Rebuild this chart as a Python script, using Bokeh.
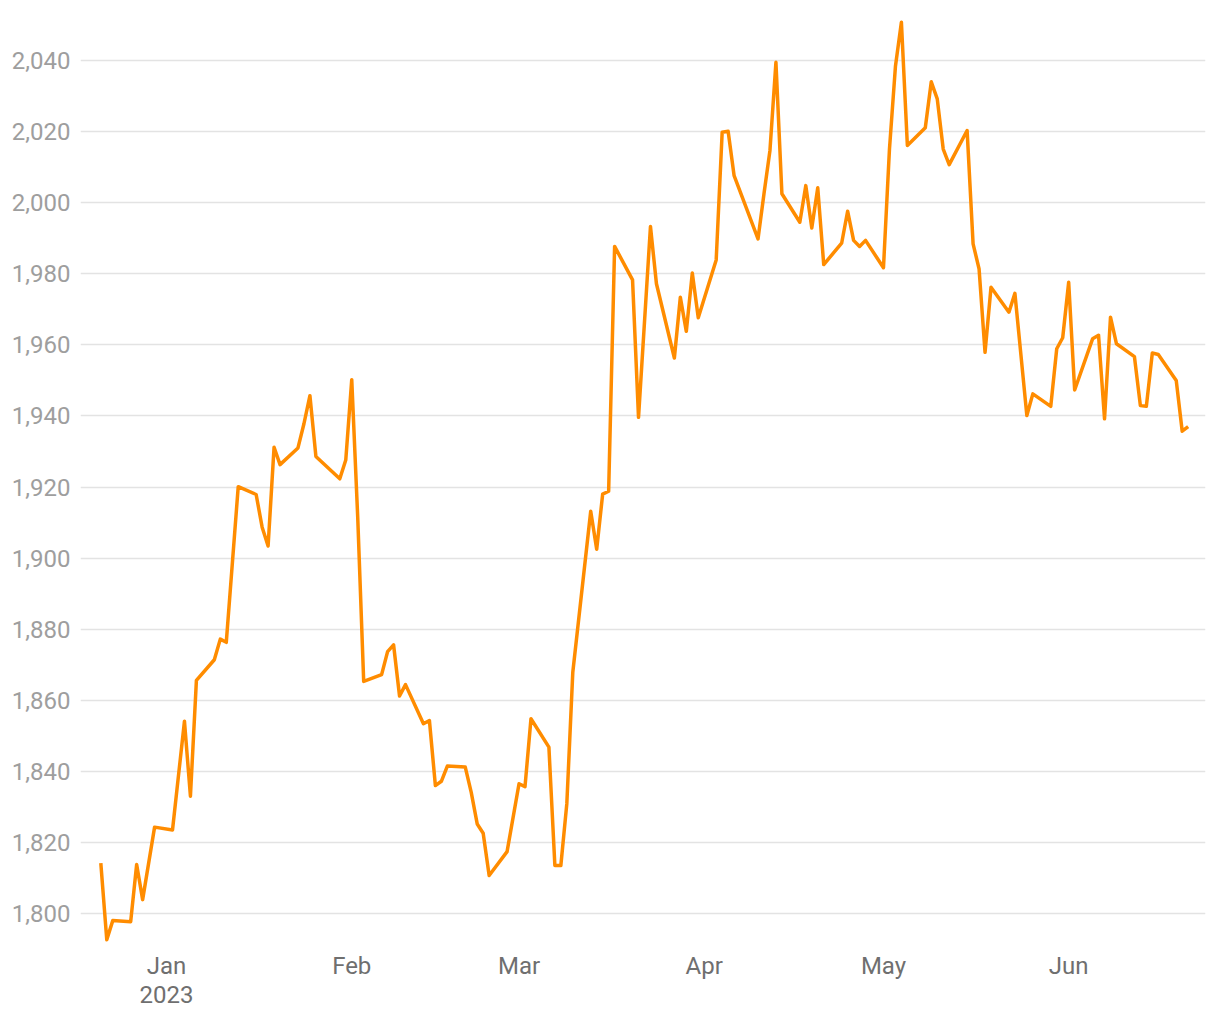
import pandas as pd
from bokeh.plotting import figure
from bokeh.models import Range1d, FixedTicker, NumeralTickFormatter, ColumnDataSource
from bokeh.embed import file_html
from bokeh.resources import INLINE

dates = [
    "2022-12-21", "2022-12-22", "2022-12-23", "2022-12-26", "2022-12-27", "2022-12-28",
    "2022-12-30", "2023-01-02", "2023-01-04", "2023-01-05", "2023-01-06", "2023-01-09",
    "2023-01-10", "2023-01-11", "2023-01-13", "2023-01-16", "2023-01-17", "2023-01-18",
    "2023-01-19", "2023-01-20", "2023-01-23", "2023-01-24", "2023-01-25", "2023-01-26",
    "2023-01-30", "2023-01-31", "2023-02-01", "2023-02-02", "2023-02-03", "2023-02-06",
    "2023-02-07", "2023-02-08", "2023-02-09", "2023-02-10", "2023-02-13", "2023-02-14",
    "2023-02-15", "2023-02-16", "2023-02-17", "2023-02-20", "2023-02-21", "2023-02-22",
    "2023-02-23", "2023-02-24", "2023-02-27", "2023-03-01", "2023-03-02", "2023-03-03",
    "2023-03-06", "2023-03-07", "2023-03-08", "2023-03-09", "2023-03-10", "2023-03-13",
    "2023-03-14", "2023-03-15", "2023-03-16", "2023-03-17", "2023-03-20", "2023-03-21",
    "2023-03-23", "2023-03-24", "2023-03-27", "2023-03-28", "2023-03-29", "2023-03-30",
    "2023-03-31", "2023-04-03", "2023-04-04", "2023-04-05", "2023-04-06", "2023-04-10",
    "2023-04-11", "2023-04-12", "2023-04-13", "2023-04-14", "2023-04-17", "2023-04-18",
    "2023-04-19", "2023-04-20", "2023-04-21", "2023-04-24", "2023-04-25", "2023-04-26",
    "2023-04-27", "2023-04-28", "2023-05-01", "2023-05-02", "2023-05-03", "2023-05-04",
    "2023-05-05", "2023-05-08", "2023-05-09", "2023-05-10", "2023-05-11", "2023-05-12",
    "2023-05-15", "2023-05-16", "2023-05-17", "2023-05-18", "2023-05-19", "2023-05-22",
    "2023-05-23", "2023-05-25", "2023-05-26", "2023-05-29", "2023-05-30", "2023-05-31",
    "2023-06-01", "2023-06-02", "2023-06-05", "2023-06-06", "2023-06-07", "2023-06-08",
    "2023-06-09", "2023-06-12", "2023-06-13", "2023-06-14", "2023-06-15", "2023-06-16",
    "2023-06-19", "2023-06-20", "2023-06-21",
]

prices = [
    1814.2, 1792.6, 1798.0, 1797.7, 1813.8, 1803.9,
    1824.3, 1823.5, 1854.1, 1833.0, 1865.6, 1871.4,
    1877.2, 1876.3, 1920.1, 1917.9, 1908.7, 1903.4,
    1931.2, 1926.3, 1931.0, 1937.8, 1945.7, 1928.6,
    1922.3, 1927.6, 1950.2, 1911.5, 1865.3, 1867.2,
    1873.7, 1875.6, 1861.2, 1864.4, 1853.4, 1854.3,
    1836.0, 1837.2, 1841.5, 1841.2, 1834.1, 1825.2,
    1822.6, 1810.7, 1817.4, 1836.5, 1835.7, 1854.8,
    1846.8, 1813.5, 1813.5, 1830.9, 1867.9, 1913.2,
    1902.5, 1918.0, 1918.8, 1987.7, 1978.3, 1939.6,
    1993.3, 1977.2, 1956.3, 1973.4, 1963.8, 1980.2,
    1967.6, 1983.9, 2019.8, 2020.1, 2007.6, 1989.8,
    2002.5, 2014.7, 2039.5, 2002.5, 1994.5, 2004.8,
    1992.9, 2004.2, 1982.6, 1988.6, 1997.6, 1989.4,
    1987.7, 1989.4, 1981.7, 2015.0, 2038.3, 2050.8,
    2016.1, 2021.1, 2034.0, 2029.2, 2015.1, 2010.7,
    2020.3, 1988.4, 1981.4, 1957.9, 1976.2, 1969.2,
    1974.5, 1940.1, 1946.2, 1942.7, 1958.9, 1962.0,
    1977.6, 1947.3, 1961.7, 1962.7, 1939.2, 1967.8,
    1960.3, 1956.7, 1942.9, 1942.7, 1957.7, 1957.3,
    1950.0, 1935.7, 1937.0,
]

y_ticks = [1800, 1820, 1840, 1860, 1880, 1900, 1920, 1940, 1960, 1980, 2000, 2020, 2040]
x_tick_dates = ["2023-01-01", "2023-02-01", "2023-03-01", "2023-04-01", "2023-05-01", "2023-06-01"]
x_tick_labels = ["Jan\n2023", "Feb", "Mar", "Apr", "May", "Jun"]

FONT = "Roboto"

def to_ms(s):
    return pd.Timestamp(s).value / 1e6

src = ColumnDataSource(dict(x=[to_ms(d) for d in dates], y=prices))

day_ms = 86400000.0
jan1 = to_ms("2023-01-01")
x_start = jan1 - 14.4 * day_ms
x_end = x_start + 188.3 * day_ms

p = figure(
    width=1212, height=1017,
    x_axis_type="datetime",
    output_backend="svg", toolbar_location=None,
    x_range=Range1d(x_start, x_end),
    y_range=Range1d(1791.28, 2052.95),
    min_border_left=80, min_border_right=7, min_border_top=14, min_border_bottom=73,
)
p.outline_line_color = None
p.background_fill_color = "white"
p.border_fill_color = "white"

p.line("x", "y", source=src, line_color="#FF8C00", line_width=3.5, line_join="round")

p.xgrid.grid_line_color = None
p.ygrid.grid_line_color = "#e3e3e3"
p.ygrid.grid_line_width = 1.5

tick_ms = [to_ms(d) for d in x_tick_dates]
p.xaxis.ticker = FixedTicker(ticks=tick_ms)
p.xaxis.major_label_overrides = {t: lab for t, lab in zip(tick_ms, x_tick_labels)}
p.yaxis.ticker = FixedTicker(ticks=y_ticks)
p.yaxis.formatter = NumeralTickFormatter(format="0,0")

for ax in (p.xaxis, p.yaxis):
    ax.axis_line_color = None
    ax.major_tick_line_color = None
    ax.minor_tick_line_color = None
    ax.major_tick_out = 0
    ax.major_tick_in = 0
    ax.minor_tick_out = 0
    ax.major_label_text_font = FONT
    ax.major_label_text_font_size = "24px"
    ax.major_label_standoff = 10

p.xaxis.major_label_standoff = 7
p.xaxis.major_label_text_line_height = 1.05
p.yaxis.major_label_text_color = "#9e9e9e"
p.xaxis.major_label_text_color = "#6f6f6f"

open("out.html", "w").write(file_html(p, INLINE))
